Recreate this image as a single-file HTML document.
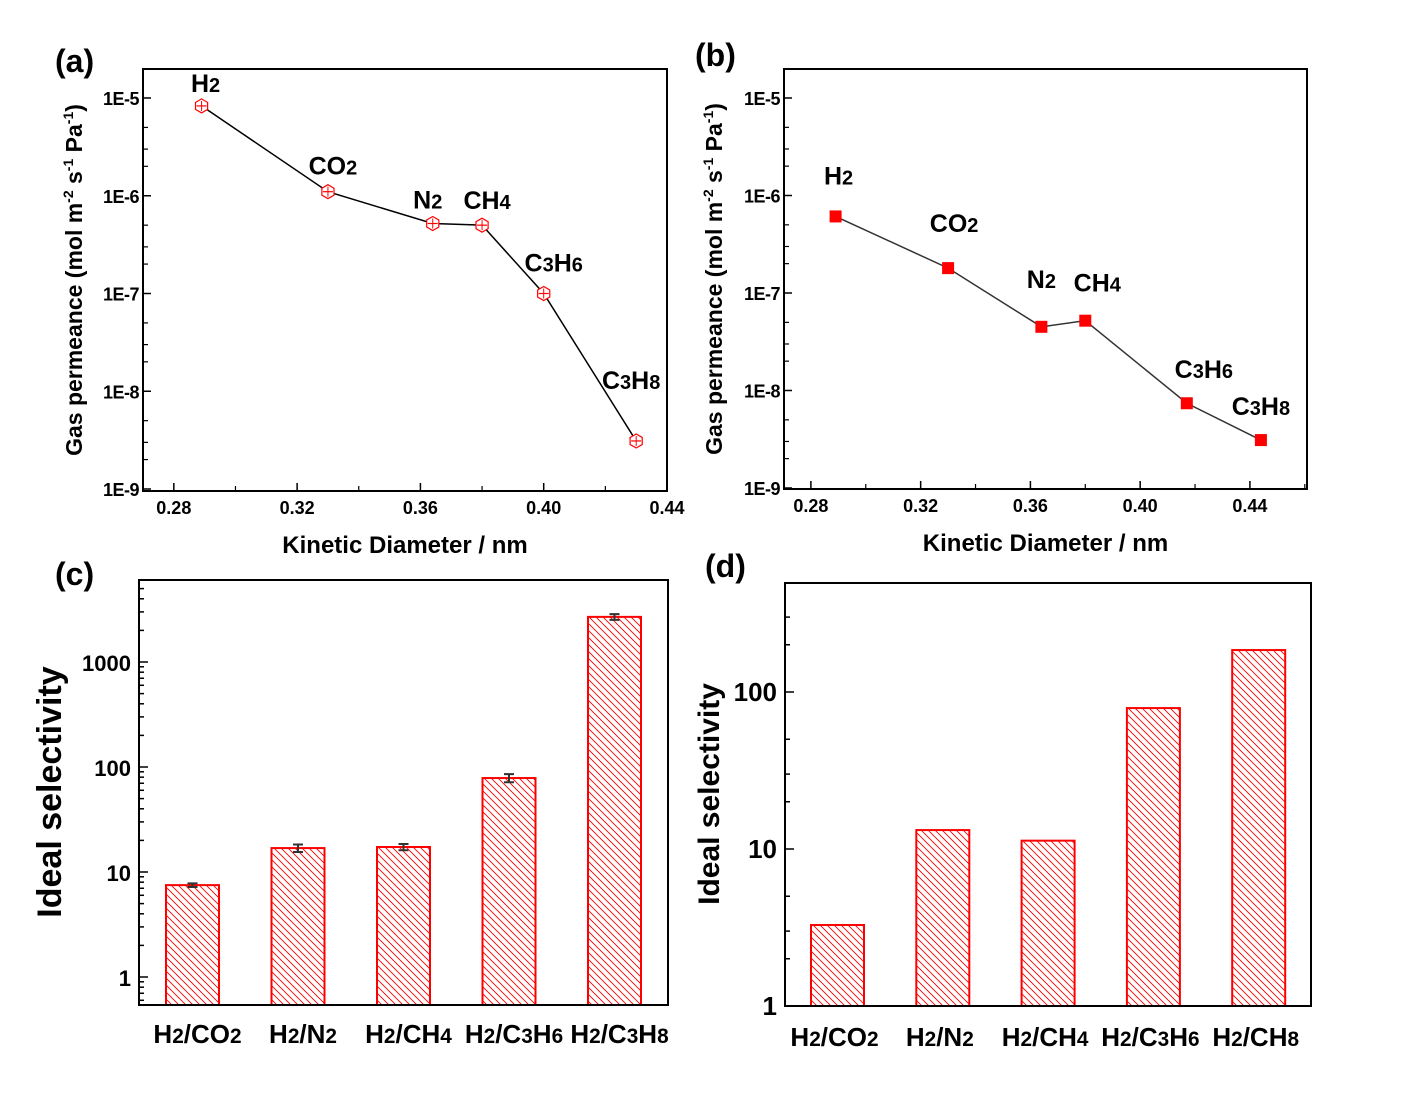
<!DOCTYPE html>
<html><head><meta charset="utf-8">
<style>
html,body{margin:0;padding:0;background:#fff;}
svg{display:block;font-family:"Liberation Sans",Arial,sans-serif;font-weight:bold;}
</style></head>
<body>
<svg id="fig" width="1421" height="1107" viewBox="0 0 1421 1107" xmlns="http://www.w3.org/2000/svg">
<defs>
<pattern id="hatch" patternUnits="userSpaceOnUse" width="7" height="7">
<path d="M0,0 L7,7 M-1,6 L1,8 M6,-1 L8,1" stroke="#ff0000" stroke-width="0.9"/>
</pattern>
</defs>
</svg>
<script>
// ---- data ----
const gasesA = ["H2","CO2","N2","CH4","C3H6","C3H8"];
const diamA = [0.289,0.33,0.364,0.38,0.40,0.43];
const permA = [8.3e-6,1.1e-6,5.2e-7,5.0e-7,1.0e-7,3.1e-9];
const gasesB = ["H2","CO2","N2","CH4","C3H6","C3H8"];
const diamB = [0.289,0.33,0.364,0.38,0.417,0.444];
const permB = [6.1e-7,1.8e-7,4.5e-8,5.2e-8,7.4e-9,3.1e-9];
const xTickLabels = ["0.28","0.32","0.36","0.40","0.44"];
const yTickLabelsAB = ["1E-9","1E-8","1E-7","1E-6","1E-5"];
const pairsC = ["H2/CO2","H2/N2","H2/CH4","H2/C3H6","H2/C3H8"];
const selC = [7.5,16.9,17.3,78.5,2690];
const errC = [0.3,1.4,1.2,7,170];
const pairsD = ["H2/CO2","H2/N2","H2/CH4","H2/C3H6","H2/CH8"];
const selD = [3.28,13.2,11.3,79,185];
const yTickLabelsC = ["1","10","100","1000"];
const yTickLabelsD = ["1","10","100"];

const NS="http://www.w3.org/2000/svg";
const svg=document.getElementById('fig');
function el(tag,attrs,parent){const e=document.createElementNS(NS,tag);for(const k in attrs)e.setAttribute(k,attrs[k]);(parent||svg).appendChild(e);return e;}
function chem(txt,x,y,size,anchor,parent){
  const t=el('text',{x:x,y:y,'font-size':size,'text-anchor':anchor||'middle',fill:'#000'},parent);
  const parts=txt.match(/(\d+|[^\d]+)/g);
  parts.forEach(p=>{const s=document.createElementNS(NS,'tspan');s.textContent=p;if(/\d/.test(p))s.setAttribute('font-size',size*0.8);t.appendChild(s);});
  return t;
}
function logScale(vmin,vmax,y0,y1){return v=>y0+(Math.log10(v)-Math.log10(vmin))/(Math.log10(vmax)-Math.log10(vmin))*(y1-y0);}
function linScale(a,b,p0,p1){return v=>p0+(v-a)/(b-a)*(p1-p0);}

function linePanel(opt){
  const g=el('g',{});
  
  
  const {L,T,R,B}=opt;
  const xs=linScale(opt.xmin,opt.xmax,L,R);
  const ys=logScale(1e-9,1e-5,opt.y9,opt.y5);
  for(let d=-9;d<=-5;d++){
    const y=ys(Math.pow(10,d));
    el('line',{x1:L,x2:L+8,y1:y,y2:y,stroke:'#000','stroke-width':1.5},g);
    const lb=el('text',{x:L-4,y:y+7,'font-size':18,'text-anchor':'end','letter-spacing':'-0.5'},g);lb.textContent=yTickLabelsAB[d+9];
    
    if(d<-5){[2,3,5].forEach(m=>{const yy=ys(m*Math.pow(10,d));el('line',{x1:L,x2:L+5,y1:yy,y2:yy,stroke:'#000','stroke-width':1.2},g);});}
  }
  [2,3,5].forEach(m=>{const yy=ys(m*1e-5);if(yy>T)el('line',{x1:L,x2:L+5,y1:yy,y2:yy,stroke:'#000','stroke-width':1.2},g);});
  xTickLabels.forEach((s,i)=>{
    const v=parseFloat(s);const x=xs(v);
    el('line',{x1:x,x2:x,y1:B,y2:B-8,stroke:'#000','stroke-width':1.5},g);
    const xm=xs(v+0.02);if(xm<R-2)el('line',{x1:xm,x2:xm,y1:B,y2:B-5,stroke:'#000','stroke-width':1.2},g);
    const lb=el('text',{x:x,y:B+23,'font-size':18,'text-anchor':'middle'},g);lb.textContent=s;
    
  });
  el('rect',{x:L,y:T,width:R-L,height:B-T,fill:'none',stroke:'#000','stroke-width':2},g);
  const pts=opt.x.map((v,i)=>xs(v)+','+ys(opt.y[i])).join(' ');
  const pl=el('polyline',{points:pts,fill:'none',stroke:opt.lineColor,'stroke-width':1.5},g);
  
  opt.x.forEach((v,i)=>{
    const cx=xs(v),cy=ys(opt.y[i]);
    if(opt.marker==='hex'){
      const r=7;
      const h=el('polygon',{points:[0,1,2,3,4,5].map(k=>{const a=Math.PI/2+k*Math.PI/3;return (cx+r*Math.cos(a))+','+(cy-r*Math.sin(a));}).join(' '),fill:'#fff',stroke:'#ff0000','stroke-width':1.2},g);
      
      el('line',{x1:cx-5,x2:cx+5,y1:cy,y2:cy,stroke:'#ff0000','stroke-width':1.2},g);
      el('line',{x1:cx,x2:cx,y1:cy-5,y2:cy+5,stroke:'#ff0000','stroke-width':1},g);
    } else {
      const s=el('rect',{x:cx-6,y:cy-6,width:12,height:12,fill:'#ff0000'},g);
      
    }
    const lo=opt.labelOff[i];
    const t=chem(opt.gases[i],cx+lo[0],cy+lo[1],25,'middle',g);
    
  });
  const xt=el('text',{x:(L+R)/2,y:B+62,'font-size':24,'text-anchor':'middle'},g);xt.textContent='Kinetic Diameter / nm';
  
  const yt=el('text',{x:0,y:0,'font-size':23,'text-anchor':'middle',transform:`translate(${opt.ytx},${(T+B)/2}) rotate(-90)`},g);
  yt.innerHTML='Gas permeance (mol m<tspan dy="-9" font-size="14">-2</tspan><tspan dy="9"> s</tspan><tspan dy="-9" font-size="14">-1</tspan><tspan dy="9"> Pa</tspan><tspan dy="-9" font-size="14">-1</tspan><tspan dy="9">)</tspan>';
  
  const pl2=el('text',{x:opt.plx,y:opt.ply,'font-size':32,'text-anchor':'start'},g);pl2.textContent=opt.plabel;
  
}
linePanel({name:'panel-a',L:143,T:69,R:667,B:491,xmin:0.27,xmax:0.44,y9:489,y5:98,x:diamA,y:permA,gases:gasesA,marker:'hex',lineColor:'#000',
  labelOff:[[4,-14],[5,-17],[-5,-15],[5,-16],[10,-22],[-5,-52]],ytx:82,plx:55,ply:72,plabel:'(a)'});
linePanel({name:'panel-b',L:784,T:69,R:1307,B:489,xmin:0.2702,xmax:0.4608,y9:488,y5:98,x:diamB,y:permB,gases:gasesB,marker:'sq',lineColor:'#333',
  labelOff:[[3,-32],[6,-36],[0,-39],[12,-29],[17,-25],[0,-25]],ytx:722,plx:695,ply:66,plabel:'(b)'});

function barPanel(opt){
  const g=el('g',{});
  
  const {L,T,R,B}=opt;
  const ys=logScale(1,10,opt.y1,opt.y10);
  opt.vals.forEach((v,i)=>{
    const cx=opt.c0+i*opt.step;
    const y=ys(v);
    const r=el('rect',{x:cx-opt.w/2,y:y,width:opt.w,height:B-y,fill:'url(#hatch)',stroke:'#ff0000','stroke-width':2},g);
    
    if(opt.err){
      const e=opt.err[i];const ya=ys(v+e),yb=ys(Math.max(v-e,0.01));
      const eb=el('path',{d:`M${cx},${ya}V${yb}M${cx-5},${ya}H${cx+5}M${cx-5},${yb}H${cx+5}`,stroke:'#333','stroke-width':2,fill:'none'},g);
      
    }
    const t=chem(opt.cats[i],cx+opt.labShift,B+opt.labDy,26,'middle',g);
    
  });
  for(let d=-1;d<=4;d++){
    for(let m=1;m<10;m++){
      if(opt.minors.indexOf(m)<0&&m!==1)continue;
      const v=m*Math.pow(10,d);const y=ys(v);
      if(y<T+1||y>B-1)continue;
      el('line',{x1:L,x2:L+(m===1?9:5),y1:y,y2:y,stroke:'#000','stroke-width':1.5},g);
    }
  }
  opt.ylabels.forEach((s,i)=>{
    const y=ys(Math.pow(10,i));
    const lb=el('text',{x:L-8,y:y+9,'font-size':opt.tickSize,'text-anchor':'end'},g);lb.textContent=s;
    
  });
  el('rect',{x:L,y:T,width:R-L,height:B-T,fill:'none',stroke:'#000','stroke-width':2},g);
  const yt=el('text',{x:0,y:0,'font-size':opt.ytSize,'text-anchor':'middle',transform:`translate(${opt.ytx},${opt.yty}) rotate(-90)`},g);yt.textContent='Ideal selectivity';
  
  const pl=el('text',{x:opt.plx,y:opt.ply,'font-size':32},g);pl.textContent=opt.plabel;
  
}
barPanel({name:'panel-c',L:139,T:580,R:668,B:1005,y1:977,y10:872,vals:selC,err:errC,cats:pairsC,c0:192.5,step:105.5,w:53,
  minors:[2,3,4,5,6,7,8,9],ylabels:yTickLabelsC,tickSize:22,ytSize:34,ytx:61,yty:792,plx:55,ply:585,plabel:'(c)',labShift:5,labDy:38});
barPanel({name:'panel-d',L:785,T:583,R:1311,B:1006,y1:1006,y10:849,vals:selD,err:null,cats:pairsD,c0:837.5,step:105.3,w:53,
  minors:[2,3,5],ylabels:yTickLabelsD,tickSize:26,ytSize:30,ytx:719,yty:794,plx:705,ply:577,plabel:'(d)',labShift:-3,labDy:40});
</script>
</body></html>
